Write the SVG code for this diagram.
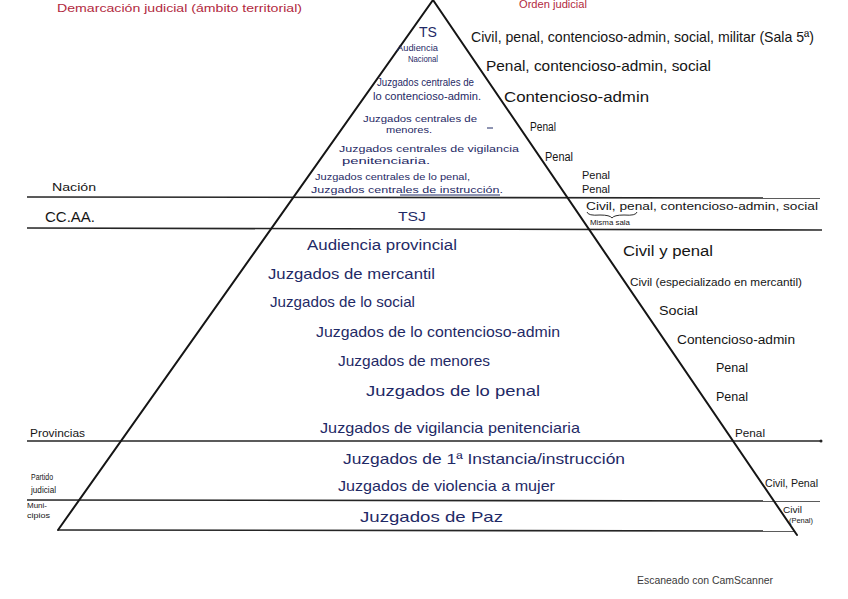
<svg xmlns="http://www.w3.org/2000/svg" width="848" height="599" viewBox="0 0 848 599">
<style>
text{font-family:"Liberation Sans","DejaVu Sans",sans-serif;}
.red{fill:#b22a3e;}
.blue{fill:#1f2a66;}
.blk{fill:#151515;}
.wm{fill:#3a3a3a;font-size:11px;}
.edge{stroke:#151515;stroke-width:2;fill:none;stroke-linecap:round;}
.hl{stroke:#252525;stroke-width:1.6;fill:none;}
.thin{stroke:#1f2a66;stroke-width:1;fill:none;}
</style>
<rect width="848" height="599" fill="#ffffff"/>

<g id="connectors">
  <line class="hl" x1="27" y1="197" x2="820" y2="198"/>
  <line class="hl" x1="27" y1="228" x2="822" y2="230"/>
  <line class="hl" x1="27" y1="441" x2="821" y2="441"/>
  <circle cx="821" cy="441" r="1.5" fill="#252525"/>
  <line class="hl" x1="27" y1="500" x2="820" y2="501"/>
  <line class="hl" x1="58" y1="530" x2="795" y2="531" stroke-width="2"/>
  <line class="edge" x1="433" y1="0" x2="58" y2="530"/>
  <line class="edge" x1="433" y1="0" x2="797" y2="535"/>
</g>

<g id="header">
  <text class="red" x="57" y="12" font-size="11" textLength="245" lengthAdjust="spacingAndGlyphs">Demarcación judicial (ámbito territorial)</text>
  <text class="red" x="519" y="8" font-size="10" textLength="68" lengthAdjust="spacingAndGlyphs">Orden judicial</text>
</g>

<g id="territory-labels">
  <text class="blk" x="52" y="191" font-size="11" textLength="44" lengthAdjust="spacingAndGlyphs">Nación</text>
  <text class="blk" x="45" y="222" font-size="14" textLength="50" lengthAdjust="spacingAndGlyphs">CC.AA.</text>
  <text class="blk" x="30" y="437" font-size="11" textLength="55" lengthAdjust="spacingAndGlyphs">Provincias</text>
  <text class="blk" x="31" y="480" font-size="9" textLength="22" lengthAdjust="spacingAndGlyphs">Partido</text>
  <text class="blk" x="31" y="493" font-size="9" textLength="25" lengthAdjust="spacingAndGlyphs">judicial</text>
  <text class="blk" x="27" y="508" font-size="8" textLength="20" lengthAdjust="spacingAndGlyphs">Muni-</text>
  <text class="blk" x="27" y="518" font-size="8" textLength="23" lengthAdjust="spacingAndGlyphs">cipios</text>
</g>

<g id="node-ts">
  <text class="blue" x="419" y="37" font-size="15" textLength="18" lengthAdjust="spacingAndGlyphs">TS</text>
  <text class="blk" x="471" y="42" font-size="15" textLength="343" lengthAdjust="spacingAndGlyphs">Civil, penal, contencioso-admin, social, militar (Sala 5ª)</text>
</g>
<g id="node-an">
  <text class="blue" x="397" y="51" font-size="9.5" textLength="41" lengthAdjust="spacingAndGlyphs">Audiencia</text>
  <text class="blue" x="408" y="62" font-size="9.5" textLength="30" lengthAdjust="spacingAndGlyphs">Nacional</text>
  <text class="blk" x="486" y="71" font-size="15" textLength="225" lengthAdjust="spacingAndGlyphs">Penal, contencioso-admin, social</text>
</g>
<g id="node-jc-contencioso">
  <text class="blue" x="377" y="86" font-size="10" textLength="97" lengthAdjust="spacingAndGlyphs">Juzgados centrales de</text>
  <text class="blue" x="373" y="100" font-size="10" textLength="108" lengthAdjust="spacingAndGlyphs">lo contencioso-admin.</text>
  <text class="blk" x="504" y="102" font-size="15" textLength="145" lengthAdjust="spacingAndGlyphs">Contencioso-admin</text>
</g>
<g id="node-jc-menores">
  <text class="blue" x="363" y="122" font-size="9" textLength="114" lengthAdjust="spacingAndGlyphs">Juzgados centrales de</text>
  <text class="blue" x="386" y="133" font-size="9" textLength="46" lengthAdjust="spacingAndGlyphs">menores.</text>
  <line class="thin" x1="487" y1="128" x2="493" y2="128"/>
  <text class="blk" x="530" y="131" font-size="12" textLength="26" lengthAdjust="spacingAndGlyphs">Penal</text>
</g>
<g id="node-jc-vigilancia">
  <text class="blue" x="339" y="152" font-size="9.5" textLength="180" lengthAdjust="spacingAndGlyphs">Juzgados centrales de vigilancia</text>
  <text class="blue" x="342" y="164" font-size="9.5" textLength="88" lengthAdjust="spacingAndGlyphs">penitenciaria.</text>
  <text class="blk" x="545" y="161" font-size="12" textLength="28" lengthAdjust="spacingAndGlyphs">Penal</text>
</g>
<g id="node-jc-penal">
  <text class="blue" x="315" y="180" font-size="9.5" textLength="155" lengthAdjust="spacingAndGlyphs">Juzgados centrales de lo penal,</text>
  <text class="blk" x="582" y="179" font-size="10" textLength="28" lengthAdjust="spacingAndGlyphs">Penal</text>
</g>
<g id="node-jc-instruccion">
  <text class="blue" x="311" y="193" font-size="9.5" textLength="192" lengthAdjust="spacingAndGlyphs">Juzgados centrales de instrucción.</text>
  <line class="thin" x1="400" y1="195" x2="500" y2="195"/>
  <text class="blk" x="582" y="193" font-size="10" textLength="28" lengthAdjust="spacingAndGlyphs">Penal</text>
</g>
<g id="node-tsj">
  <text class="blue" x="398" y="221" font-size="13" textLength="28" lengthAdjust="spacingAndGlyphs">TSJ</text>
  <text class="blk" x="586" y="210" font-size="10" textLength="232" lengthAdjust="spacingAndGlyphs">Civil, penal, contencioso-admin, social</text>
  <path d="M587 212 Q588 216 600 215 Q610 215 612 218 Q614 215 624 215 Q636 216 637 212" fill="none" stroke="#151515" stroke-width="0.9"/>
  <text class="blk" x="590" y="225" font-size="8" textLength="40" lengthAdjust="spacingAndGlyphs">Misma sala</text>
</g>

<g id="node-ap">
  <text class="blue" x="307" y="250" font-size="14" textLength="150" lengthAdjust="spacingAndGlyphs">Audiencia provincial</text>
  <text class="blk" x="623" y="256" font-size="14" textLength="90" lengthAdjust="spacingAndGlyphs">Civil y penal</text>
</g>
<g id="node-mercantil">
  <text class="blue" x="268" y="279" font-size="15" textLength="167" lengthAdjust="spacingAndGlyphs">Juzgados de mercantil</text>
  <text class="blk" x="630" y="286" font-size="11" textLength="172" lengthAdjust="spacingAndGlyphs">Civil (especializado en mercantil)</text>
</g>
<g id="node-social">
  <text class="blue" x="270" y="307" font-size="15" textLength="145" lengthAdjust="spacingAndGlyphs">Juzgados de lo social</text>
  <text class="blk" x="659" y="315" font-size="12" textLength="39" lengthAdjust="spacingAndGlyphs">Social</text>
</g>
<g id="node-contencioso">
  <text class="blue" x="316" y="337" font-size="15" textLength="244" lengthAdjust="spacingAndGlyphs">Juzgados de lo contencioso-admin</text>
  <text class="blk" x="677" y="344" font-size="12" textLength="118" lengthAdjust="spacingAndGlyphs">Contencioso-admin</text>
</g>
<g id="node-menores">
  <text class="blue" x="338" y="366" font-size="15" textLength="152" lengthAdjust="spacingAndGlyphs">Juzgados de menores</text>
  <text class="blk" x="716" y="372" font-size="12" textLength="32" lengthAdjust="spacingAndGlyphs">Penal</text>
</g>
<g id="node-penal">
  <text class="blue" x="366" y="396" font-size="15" textLength="174" lengthAdjust="spacingAndGlyphs">Juzgados de lo penal</text>
  <text class="blk" x="716" y="401" font-size="12" textLength="32" lengthAdjust="spacingAndGlyphs">Penal</text>
</g>
<g id="node-vigilancia">
  <text class="blue" x="320" y="433" font-size="15" textLength="260" lengthAdjust="spacingAndGlyphs">Juzgados de vigilancia penitenciaria</text>
  <text class="blk" x="735" y="437" font-size="11" textLength="30" lengthAdjust="spacingAndGlyphs">Penal</text>
</g>
<g id="node-instancia">
  <text class="blue" x="343" y="464" font-size="15" textLength="282" lengthAdjust="spacingAndGlyphs">Juzgados de 1ª Instancia/instrucción</text>
</g>
<g id="node-violencia">
  <text class="blue" x="338" y="491" font-size="15" textLength="217" lengthAdjust="spacingAndGlyphs">Juzgados de violencia a mujer</text>
  <text class="blk" x="765" y="487" font-size="10" textLength="53" lengthAdjust="spacingAndGlyphs">Civil, Penal</text>
</g>
<g id="node-paz">
  <text class="blue" x="360" y="522" font-size="15" textLength="143" lengthAdjust="spacingAndGlyphs">Juzgados de Paz</text>
  <text class="blk" x="783" y="513" font-size="9" textLength="19" lengthAdjust="spacingAndGlyphs">Civil</text>
  <text class="blk" x="789" y="523" font-size="8" textLength="24" lengthAdjust="spacingAndGlyphs">(Penal)</text>
</g>

<text class="wm" x="637" y="584" textLength="136" lengthAdjust="spacingAndGlyphs">Escaneado con CamScanner</text>
</svg>
